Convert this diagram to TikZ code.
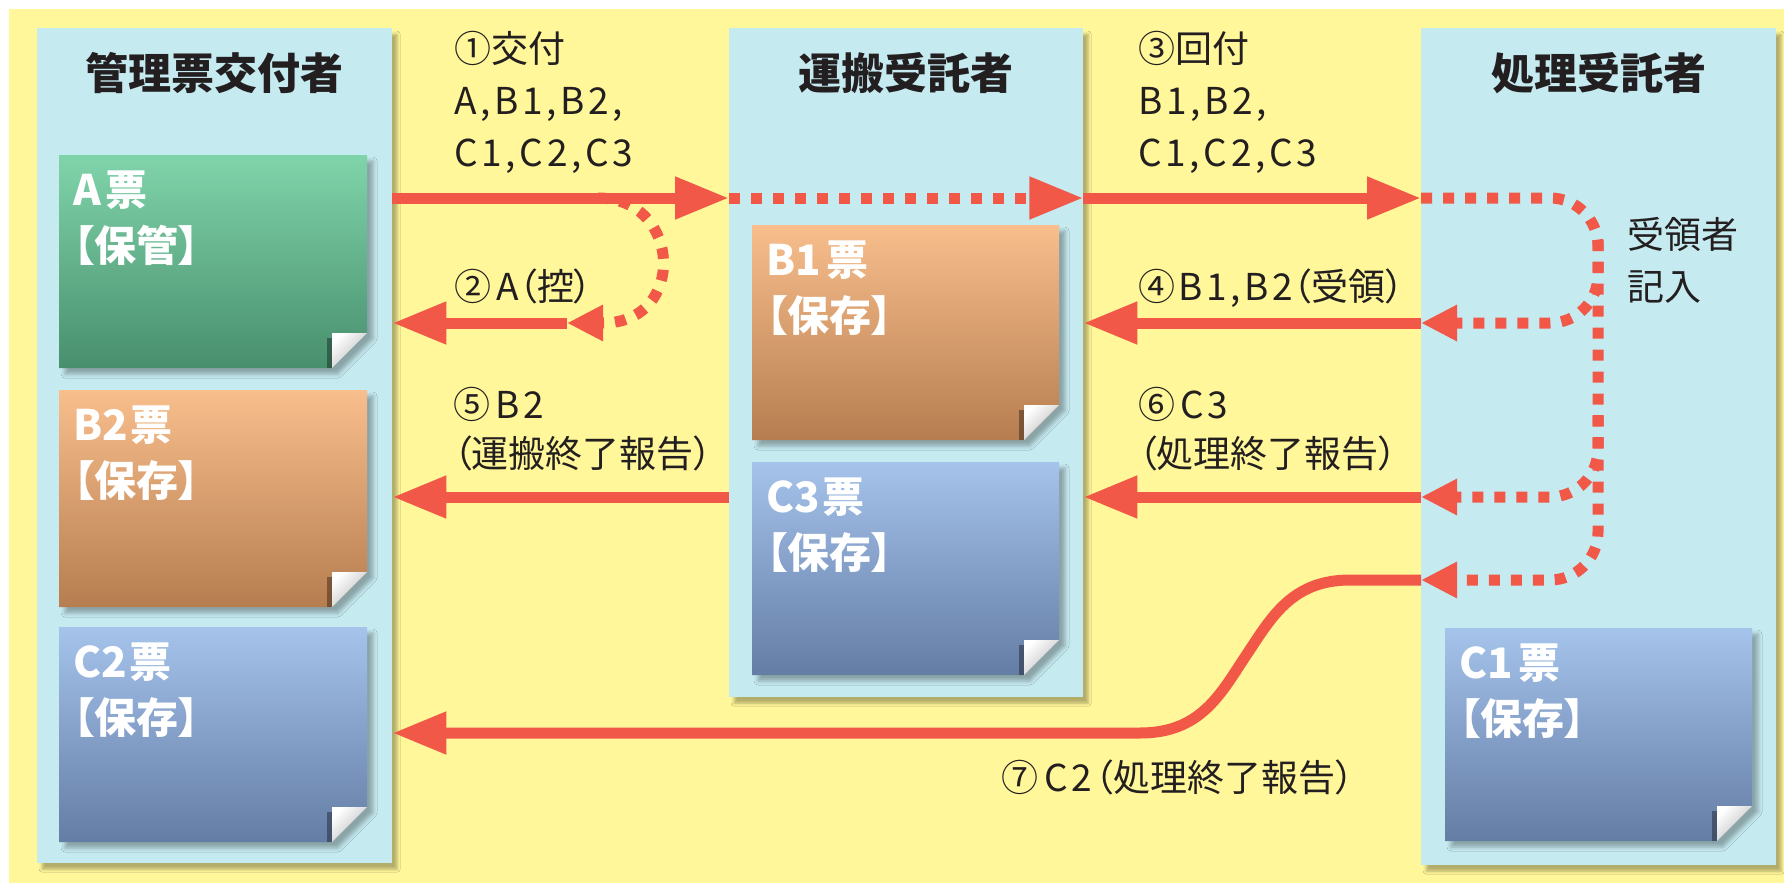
\documentclass[tikz,border=0pt]{standalone}
\usepackage{fontspec}
\setmainfont{Noto Sans CJK JP}[RawFeature=+palt]
\newfontfamily\latf{Noto Sans CJK JP}[LetterSpace=10]
\newcommand\lt[1]{{\latf #1}}
\usetikzlibrary{arrows.meta,shadows.blur}
\definecolor{bgY}{RGB}{255,247,153}
\definecolor{colB}{RGB}{197,234,240}
\definecolor{arr}{RGB}{241,88,72}
\definecolor{ink}{RGB}{35,31,32}
\definecolor{gT}{RGB}{128,212,170}\definecolor{gM}{RGB}{96,180,140}\definecolor{gB}{RGB}{72,143,110}
\definecolor{oT}{RGB}{248,190,140}\definecolor{oM}{RGB}{232,165,112}\definecolor{oB}{RGB}{182,125,80}
\definecolor{bT}{RGB}{165,195,235}\definecolor{bM}{RGB}{130,160,205}\definecolor{bB}{RGB}{100,125,165}
\tikzset{
  colbox/.style={fill=colB, inner sep=0pt, anchor=north west,
    blur shadow={shadow xshift=5pt,shadow yshift=-6pt,shadow blur radius=3pt,shadow opacity=30}},
  cardshadow/.style={blur shadow={shadow xshift=6pt,shadow yshift=-6pt,shadow blur radius=4pt,shadow opacity=30}},
  hdr/.style={font=\fontsize{43}{50}\selectfont\bfseries, text=ink, anchor=base, inner sep=0pt},
  lbl/.style={font=\fontsize{37}{52}\selectfont, text=ink, anchor=base west, inner sep=0pt, align=left},
  lbltwo/.style={lbl, font=\fontsize{37}{49}\selectfont},
  cardtxt/.style={font=\fontsize{42}{56}\selectfont\bfseries, text=white, anchor=base west, inner sep=0pt, align=left},
  solidarrow/.style={draw=arr, line width=11pt, -{Triangle[length=54pt,width=40pt]}},
  bigdotarrow/.style={draw=arr, line width=11pt, dash pattern=on 11pt off 11pt, -{Triangle[length=54pt,width=40pt]}},
  dotarrow/.style={draw=arr, line width=11pt, dash pattern=on 11pt off 11pt, -{Triangle[length=36pt,width=34pt]}},
  greencard/.style={top color=gT, middle color=gM, bottom color=gB},
  orangecard/.style={top color=oT, middle color=oM, bottom color=oB},
  bluecard/.style={top color=bT, middle color=bM, bottom color=bB},
}
\newcommand\ticket[7]{%
  \path[cardshadow, #6] (#2,#3) -- (#4,#3) -- (#4,#5-35) -- (#4-35,#5) -- (#2,#5) -- cycle;
  \fill[black, opacity=.35] (#4-40,#5-30) rectangle (#4-35,#5);
  \shade[top color=white, middle color=white, bottom color=black!28, shading angle=45]
    (#4-35,#5-35) -- (#4,#5-35) -- (#4-35,#5) -- cycle;
  \node[cardtxt] (#1) at (#2+14,#3+106) {#7};
}
\begin{document}
\begin{tikzpicture}[x=1pt,y=-1pt]
\useasboundingbox (0,0) rectangle (1784,883);
\fill[white] (0,0) rectangle (1784,883);
\fill[bgY] (9,9) rectangle (1784,883);

% columns
\node[colbox, minimum width=355pt, minimum height=835pt] (colL) at (37,28) {};
\node[colbox, minimum width=354pt, minimum height=669pt] (colM) at (729,28) {};
\node[colbox, minimum width=355pt, minimum height=837pt] (colR) at (1421,28) {};

% header baseline and levels
\coordinate (hy) at (0,89);
\coordinate (y1) at (0,198);
\coordinate (y2) at (0,323);
\coordinate (y6) at (0,497);
\coordinate (y7) at (0,580);
\coordinate (y7b) at (0,733);
\coordinate (vx) at (1598,0);

\node[hdr] (hL) at (colL.north |- hy) {管理票交付者};
\node[hdr] (hM) at (colM.north |- hy) {運搬受託者};
\node[hdr] (hR) at (colR.north |- hy) {処理受託者};

% cards
\ticket{cA}{59}{155}{367}{368}{greencard}{A\hspace{5pt}票\\【保管】}
\ticket{cB2}{59}{390}{367}{607}{orangecard}{B2\hspace{3pt}票\\【保存】}
\ticket{cC2}{59}{627}{367}{842}{bluecard}{C2\hspace{3pt}票\\【保存】}
\ticket{cB1}{752}{225}{1059}{440}{orangecard}{B1\hspace{6pt}票\\【保存】}
\ticket{cC3}{752}{462}{1059}{675}{bluecard}{C3\hspace{3pt}票\\【保存】}
\ticket{cC1}{1445}{628}{1752}{841}{bluecard}{C1\hspace{6pt}票\\【保存】}

% dotted flows
\coordinate (c2a) at (598,198);
\coordinate (c2b) at (603,323);
\coordinate (c2t) at (567,323);
\draw[dotarrow] (c2a) .. controls +(84,0) and +(84,0) .. (c2b) -- (c2t);
\draw[bigdotarrow] (colM.west |- y1) -- (colM.east |- y1);
\draw[dotarrow, rounded corners=48pt] (colR.west |- y1) -- (vx |- y1) -- (vx |- y7) -- (colR.west |- y7);
\coordinate (b4) at (1598,240);
\coordinate (b6) at (1598,415);
\draw[dotarrow, rounded corners=48pt] (b4) -- (vx |- y2) -- (colR.west |- y2);
\draw[dotarrow, rounded corners=48pt] (b6) -- (vx |- y6) -- (colR.west |- y6);

% solid arrows
\draw[solidarrow] (colL.east |- y1) -- (colM.west |- y1);
\draw[solidarrow] (colM.east |- y1) -- (colR.west |- y1);
\draw[solidarrow] (c2t) -- (colL.east |- y2);
\draw[solidarrow] (colR.west |- y2) -- (colM.east |- y2);
\draw[solidarrow] (colM.west |- y6) -- (colL.east |- y6);
\draw[solidarrow] (colR.west |- y6) -- (colM.east |- y6);
\coordinate (s1) at (1350,580);
\coordinate (s2) at (1245,657);
\coordinate (s3) at (1140,733);
\draw[solidarrow] (colR.west |- y7) -- (s1) .. controls (1290,580) and (1270,620) .. (s2)
  .. controls (1220,695) and (1200,733) .. (s3) -- (colL.east |- y7b);

% labels (multi-line nodes: base = last line)
\node[lbl] (l1) at (454,166) {①交付\\\lt{A,B1,B2,}\\\lt{C1,C2,C3}};
\node[lbl] (l3) at (1138,166) {③回付\\\lt{B1,B2,}\\\lt{C1,C2,C3}};
\node[lbl] (l2) at (454,300) {②\hspace{5pt}\lt{A}（控）};
\node[lbl] (l4) at (1138,300) {④\hspace{3pt}\lt{B1,B2}（受領）};
\node[lbltwo] (l5) at (453,467) {⑤\hspace{5pt}\lt{B2}\\（運搬終了報告）};
\node[lbltwo] (l6) at (1138,467) {⑥\hspace{5pt}\lt{C3}\\（処理終了報告）};
\node[lbl] (l7) at (1001,791) {⑦\hspace{6pt}\lt{C2}\hspace{3pt}（処理終了報告）};
\node[lbl] (rec) at (1627,300) {受領者\\記入};
\end{tikzpicture}
\end{document}
